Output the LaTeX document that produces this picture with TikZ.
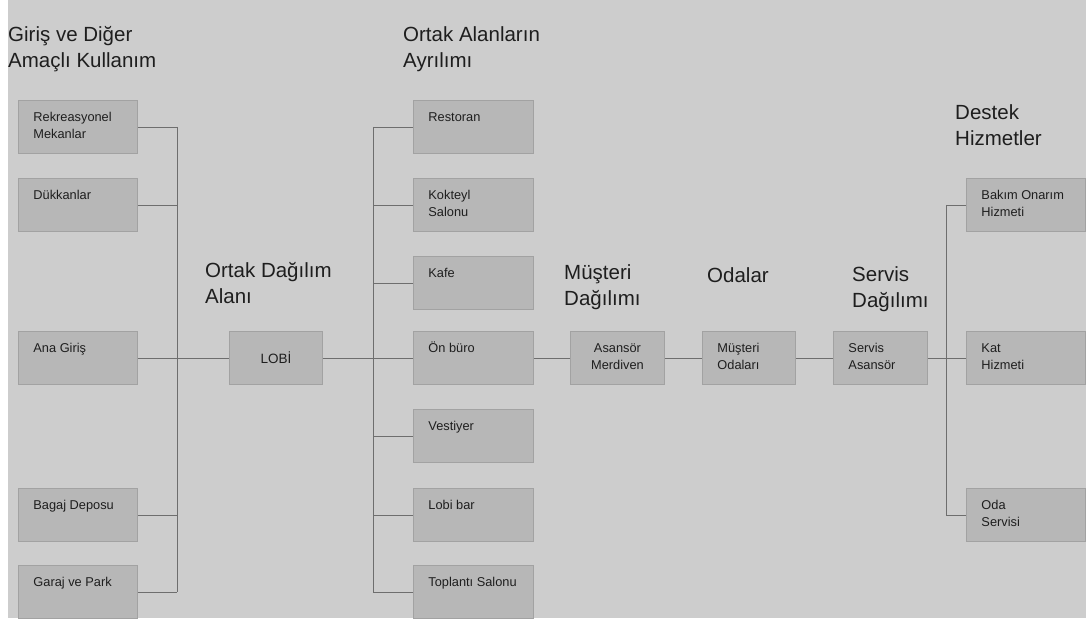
\documentclass[tikz,border=0pt]{standalone}
\usepackage{fontspec}
\setmainfont{Liberation Sans}
\definecolor{bg}{HTML}{CDCDCD}
\definecolor{boxfill}{HTML}{B7B7B7}
\definecolor{boxline}{HTML}{A2A2A2}
\definecolor{wire}{HTML}{6E6E6E}
\definecolor{txt}{HTML}{1E1E1E}
\newcommand\tlbox[2]{\parbox[c][53pt][t]{#1pt}{\raggedright\leftskip=15pt\fontsize{12.8}{17}\selectfont\rule{0pt}{21pt}#2}}
\newcommand\ctbox[2]{\parbox[c][53pt][t]{#1pt}{\centering\fontsize{12.8}{17}\selectfont\rule{0pt}{21pt}#2}}
\newcommand\ccbox[2]{\parbox[c][53pt][c]{#1pt}{\centering\fontsize{13.5}{17}\selectfont #2}}
\begin{document}
\begin{tikzpicture}[x=1pt,y=-1pt,
  box/.style={fill=boxfill,draw=boxline,line width=0.9pt,inner sep=0pt,anchor=north west,text=txt},
  head/.style={anchor=base west,align=left,inner sep=0pt,text=txt,font=\fontsize{20.5}{25.5}\selectfont},
  wirestyle/.style={draw=wire,line width=0.9pt}]
\useasboundingbox (0,0) rectangle (1086,621);
\fill[white] (0,0) rectangle (1086,621);
\fill[bg] (8,0) rectangle (1086,618);
% headers (anchored at the baseline of the last line)
\node[head] (h1) at (8,67) {Giriş ve Diğer\\Amaçlı Kullanım};
\node[head] (h2) at (205,303) {Ortak Dağılım\\Alanı};
\node[head] (h3) at (403,67) {Ortak Alanların\\Ayrılımı};
\node[head] (h4) at (564,305) {Müşteri\\Dağılımı};
\node[head] (h5) at (707,282) {Odalar};
\node[head] (h6) at (852,307) {Servis\\Dağılımı};
\node[head] (h7) at (955,145) {Destek\\Hizmetler};
% left column
\node[box] (rek) at (18,100) {\tlbox{119}{Rekreasyonel\\Mekanlar}};
\node[box] (duk) at (18,178) {\tlbox{119}{Dükkanlar}};
\node[box] (ana) at (18,331) {\tlbox{119}{Ana Giriş}};
\node[box] (bag) at (18,488) {\tlbox{119}{Bagaj Deposu}};
\node[box] (gar) at (18,565) {\tlbox{119}{Garaj ve Park}};
% lobby
\node[box] (lobi) at (229,331) {\ccbox{93}{LOBİ}};
% middle column
\node[box] (res) at (413,100) {\tlbox{120}{Restoran}};
\node[box] (kok) at (413,178) {\tlbox{120}{Kokteyl\\Salonu}};
\node[box] (kaf) at (413,256) {\tlbox{120}{Kafe}};
\node[box] (onb) at (413,331) {\tlbox{120}{Ön büro}};
\node[box] (ves) at (413,409) {\tlbox{120}{Vestiyer}};
\node[box] (lbar) at (413,488) {\tlbox{120}{Lobi bar}};
\node[box] (top) at (413,565) {\tlbox{120}{Toplantı Salonu}};
% chain
\node[box] (asa) at (570,331) {\ctbox{94}{Asansör\\Merdiven}};
\node[box] (mus) at (702,331) {\tlbox{93}{Müşteri\\Odaları}};
\node[box] (ser) at (833,331) {\tlbox{94}{Servis\\Asansör}};
% right column
\node[box] (bak) at (966,178) {\tlbox{119}{Bakım Onarım\\Hizmeti}};
\node[box] (kat) at (966,331) {\tlbox{119}{Kat\\Hizmeti}};
\node[box] (oda) at (966,488) {\tlbox{119}{Oda\\Servisi}};
% trunks
\coordinate (lt) at (177,0);
\coordinate (mt) at (373,0);
\coordinate (rt) at (946,0);
\draw[wirestyle] (rek.east -| lt) -- (gar.east -| lt);
\draw[wirestyle] (res.west -| mt) -- (top.west -| mt);
\draw[wirestyle] (bak.west -| rt) -- (oda.west -| rt);
% left branches
\foreach \n in {rek,duk,bag,gar} {\draw[wirestyle] (\n.east) -- (\n.east -| lt);}
\draw[wirestyle] (ana.east) -- (lobi.west);
\draw[wirestyle] (lobi.east) -- (lobi.east -| mt);
% middle branches
\foreach \n in {res,kok,kaf,ves,lbar,top} {\draw[wirestyle] (\n.west -| mt) -- (\n.west);}
\draw[wirestyle] (onb.west -| mt) -- (onb.west);
\draw[wirestyle] (onb.east) -- (asa.west);
\draw[wirestyle] (asa.east) -- (mus.west);
\draw[wirestyle] (mus.east) -- (ser.west);
\draw[wirestyle] (ser.east) -- (kat.west);
\foreach \n in {bak,oda} {\draw[wirestyle] (\n.west -| rt) -- (\n.west);}
\end{tikzpicture}
\end{document}
